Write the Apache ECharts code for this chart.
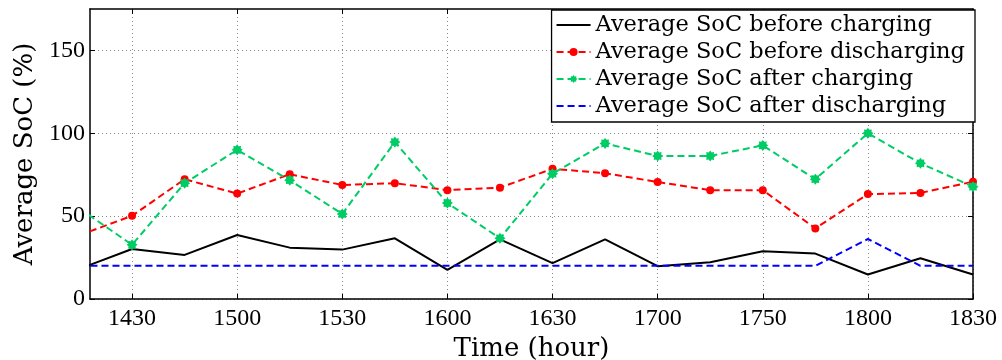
<!DOCTYPE html>
<html><head><meta charset="utf-8">
<script src="https://cdn.jsdelivr.net/npm/echarts@6/dist/echarts.min.js"></script>
<style>html,body{margin:0;padding:0;background:#fff}#c{width:1002px;height:360px}</style>
</head><body><div id="c"></div>
<script>
// x position of each sample, minutes after 14:30 (samples every 15 min)
const minutesFrom1430 = [-15,0,15,30,45,60,75,90,105,120,135,150,165,180,195,210,225,240];
const beforeCharging    = [18.2,30.2,26.6,38.6,31.0,29.8,36.6,17.6,36.0,21.6,36.0,19.8,22.2,28.8,27.4,14.8,24.6,14.8];
const beforeDischarging = [38.5,50.2,72.3,63.6,75.3,68.8,69.9,65.7,67.2,78.6,75.9,70.6,65.7,65.7,42.6,63.3,64.0,70.8];
const afterCharging     = [54.6,32.7,69.9,90.0,71.7,51.3,94.7,57.9,36.6,75.6,93.9,86.3,86.3,92.7,72.3,100,81.9,67.8];
const afterDischarging  = [20,20,20,20,20,20,20,20,20,20,20,20,20,20,20,36.2,20,20];
const tickPositions = [0,30,60,90,120,150,180,210,240];
const tickLabels = ['1430','1500','1530','1600','1630','1700','1750','1800','1830'];
const yTicks = [0,50,100,150];
const seriesNames = ['Average SoC before charging','Average SoC before discharging','Average SoC after charging','Average SoC after discharging'];

const pts = arr => minutesFrom1430.map((m,i)=>[m,arr[i]]);
const starPath = 'path://M10,0L12.7,3.5L17.07,2.93L16.5,7.3L20,10L16.5,12.7L17.07,17.07L12.7,16.5L10,20L7.3,16.5L2.93,17.07L3.5,12.7L0,10L3.5,7.3L2.93,2.93L7.3,3.5Z';
const noSymbol = 'path://M0,0L1,0L1,0.001Z';

const tickFont = {fontFamily:'Liberation Serif', fontSize:24, color:'#000'};
const X_MIN = -12, X_MAX = 240, Y_MIN = 0, Y_MAX = 175;
const chart = echarts.init(document.getElementById('c'), null, {renderer:'canvas'});
chart.setOption({
  animation:false,
  backgroundColor:'#fff',
  grid: {left:90, right:29, top:9, bottom:61, outerBoundsMode:'none', containLabel:false},
  legend:{
    orient:'vertical', right:27, top:10,
    backgroundColor:'#fff', borderColor:'#000', borderWidth:1.3, borderRadius:0,
    padding:[2,10,3,4], itemGap:1, itemWidth:34, itemHeight:10,
    textStyle:{fontFamily:'DejaVu Serif', fontSize:22.5, color:'#000', lineHeight:26},
    data: seriesNames
  },
  xAxis:[{
    type:'value', min:X_MIN, max:X_MAX,
    name:'Time (hour)', nameLocation:'middle', nameGap:27,
    nameTextStyle:{fontFamily:'DejaVu Serif', fontSize:26, color:'#000'},
    axisLine:{show:true, onZero:false, lineStyle:{color:'#000', width:1.5}},
    axisTick:{show:true, inside:true, length:5, customValues:tickPositions, lineStyle:{color:'#000', width:1}},
    axisLabel:{show:true, margin:8, customValues:tickPositions, ...tickFont,
      formatter: v => tickLabels[tickPositions.indexOf(v)] ?? ''},
    splitLine:{show:true, lineStyle:{color:'#888', type:[1,3], width:1}}
  },{
    type:'value', position:'top', min:X_MIN, max:X_MAX,
    axisLine:{show:true, onZero:false, lineStyle:{color:'#000', width:1.5}},
    axisTick:{show:true, inside:true, length:5, customValues:tickPositions, lineStyle:{color:'#000', width:1}},
    axisLabel:{show:false}, splitLine:{show:false}
  }],
  yAxis:[{
    type:'value', min:Y_MIN, max:Y_MAX,
    name:'Average SoC (%)', nameLocation:'middle', nameGap:52, nameRotate:90,
    nameTextStyle:{fontFamily:'DejaVu Serif', fontSize:26, color:'#000'},
    axisLine:{show:true, onZero:false, lineStyle:{color:'#000', width:1.5}},
    axisTick:{show:true, inside:true, length:5, customValues:yTicks, lineStyle:{color:'#000', width:1}},
    axisLabel:{show:true, margin:5, customValues:yTicks, ...tickFont},
    splitLine:{show:true, lineStyle:{color:'#888', type:[1,3], width:1}}
  },{
    type:'value', position:'right', min:Y_MIN, max:Y_MAX,
    axisLine:{show:true, onZero:false, lineStyle:{color:'#000', width:1.5}},
    axisTick:{show:true, inside:true, length:5, customValues:yTicks, lineStyle:{color:'#000', width:1}},
    axisLabel:{show:false}, splitLine:{show:false}
  }],
  series:[
    {name:seriesNames[0], type:'line', data:pts(beforeCharging), symbol:noSymbol, showSymbol:false, clip:true,
      lineStyle:{color:'#000', width:2}, itemStyle:{color:'#000', opacity:0}},
    {name:seriesNames[1], type:'line', data:pts(beforeDischarging), symbol:'circle', symbolSize:8, clip:true,
      lineStyle:{color:'#ff0000', width:2, type:[7,4]}, itemStyle:{color:'#ff0000'}},
    {name:seriesNames[2], type:'line', data:pts(afterCharging), symbol:starPath, symbolSize:11, clip:true,
      lineStyle:{color:'#00cc66', width:2, type:[7,4]}, itemStyle:{color:'#00cc66'}},
    {name:seriesNames[3], type:'line', data:pts(afterDischarging), symbol:noSymbol, showSymbol:false, clip:true,
      lineStyle:{color:'#0000ff', width:2, type:[7,4]}, itemStyle:{color:'#0000ff', opacity:0}}
  ]
});
</script></body></html>
